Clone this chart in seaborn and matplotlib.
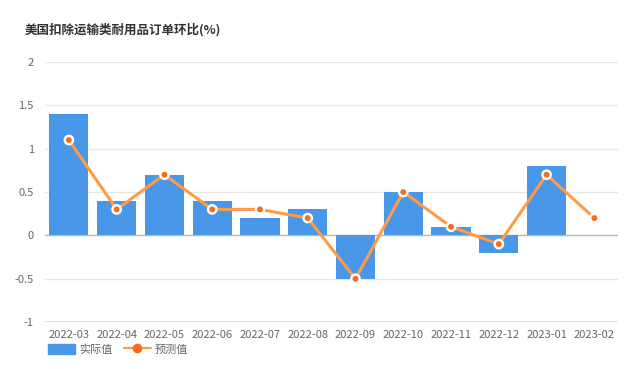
import numpy as np
import pandas as pd
import matplotlib
matplotlib.use("Agg")
import matplotlib.pyplot as plt
import seaborn as sns
from matplotlib.lines import Line2D
from matplotlib.patches import FancyBboxPatch

# -----------------------------
# Data
# -----------------------------
months = ["2022-03", "2022-04", "2022-05", "2022-06", "2022-07", "2022-08",
          "2022-09", "2022-10", "2022-11", "2022-12", "2023-01", "2023-02"]
actual = [1.4, 0.4, 0.7, 0.4, 0.2, 0.3, -0.5, 0.5, 0.1, -0.2, 0.8, np.nan]
forecast = [1.1, 0.3, 0.7, 0.3, 0.3, 0.2, -0.5, 0.5, 0.1, -0.1, 0.7, 0.2]
yticks = [-1, -0.5, 0, 0.5, 1, 1.5, 2]
ytick_labels = ["-1", "-0.5", "0", "0.5", "1", "1.5", "2"]

df = pd.DataFrame({"month": months, "actual": actual, "forecast": forecast})

# -----------------------------
# Setup
# -----------------------------
sns.set_theme(style="white")
plt.rcParams["font.family"] = ["Noto Sans CJK SC", "DejaVu Sans"]

bar_color = "#4897e8"
line_color = "#ff9a45"
dot_color = "#ff6a1a"
grid_color = "#e6e6e6"
text_color = "#666666"

fig = plt.figure(figsize=(6.4, 3.69), dpi=100)
ax = fig.add_axes([0.0703, 0.127, 0.8957, 0.705])

for yv in yticks:
    ax.axhline(yv, color=grid_color, lw=1, zorder=0)

sns.barplot(data=df, x="month", y="actual", order=months, color=bar_color,
            width=0.82, saturation=1, linewidth=0, edgecolor="none",
            ax=ax, zorder=2)

x = np.arange(len(months))
ax.plot(x, df["forecast"], color=line_color, lw=2.2, zorder=3)
ax.scatter(x, df["forecast"], s=60, color="white", edgecolor="none", zorder=4)
ax.scatter(x, df["forecast"], s=18, color=dot_color, edgecolor="none", zorder=5)

# -----------------------------
# Axes styling
# -----------------------------
ax.set_ylim(-1, 2)
ax.set_xlim(-0.5, len(months) - 0.5)
ax.set_yticks(yticks)
ax.set_yticklabels(ytick_labels)
ax.axhline(0, color="#bbbbbb", lw=1, zorder=1)
ax.axhline(-1, color="#dddddd", lw=2, zorder=1)

for s in ax.spines.values():
    s.set_visible(False)
ax.tick_params(axis="both", length=0, labelsize=8, labelcolor=text_color)
ax.tick_params(axis="y", pad=8)
ax.tick_params(axis="x", pad=6)
ax.set_xlabel("")
ax.set_ylabel("")

fig.text(0.039, 0.918, "美国扣除运输类耐用品订单环比(%)", fontsize=9,
         fontweight="bold", color="#333333", ha="left", va="center")

# -----------------------------
# Legend
# -----------------------------
handles = [
    FancyBboxPatch((0, 0), 1, 1, boxstyle="round,pad=0.1", color=bar_color),
    Line2D([0], [0], color=line_color, lw=1.5, marker="o", markersize=6,
           markerfacecolor=dot_color, markeredgecolor=dot_color),
]
leg = fig.legend(handles, ["实际值", "预测值"], loc="center left",
                 bbox_to_anchor=(0.06, 0.053), ncol=2, frameon=False,
                 fontsize=8, handlelength=2.4, handleheight=1.0,
                 columnspacing=1.0, handletextpad=0.4)
for t in leg.get_texts():
    t.set_color(text_color)

fig.savefig("out.png", dpi=100)
